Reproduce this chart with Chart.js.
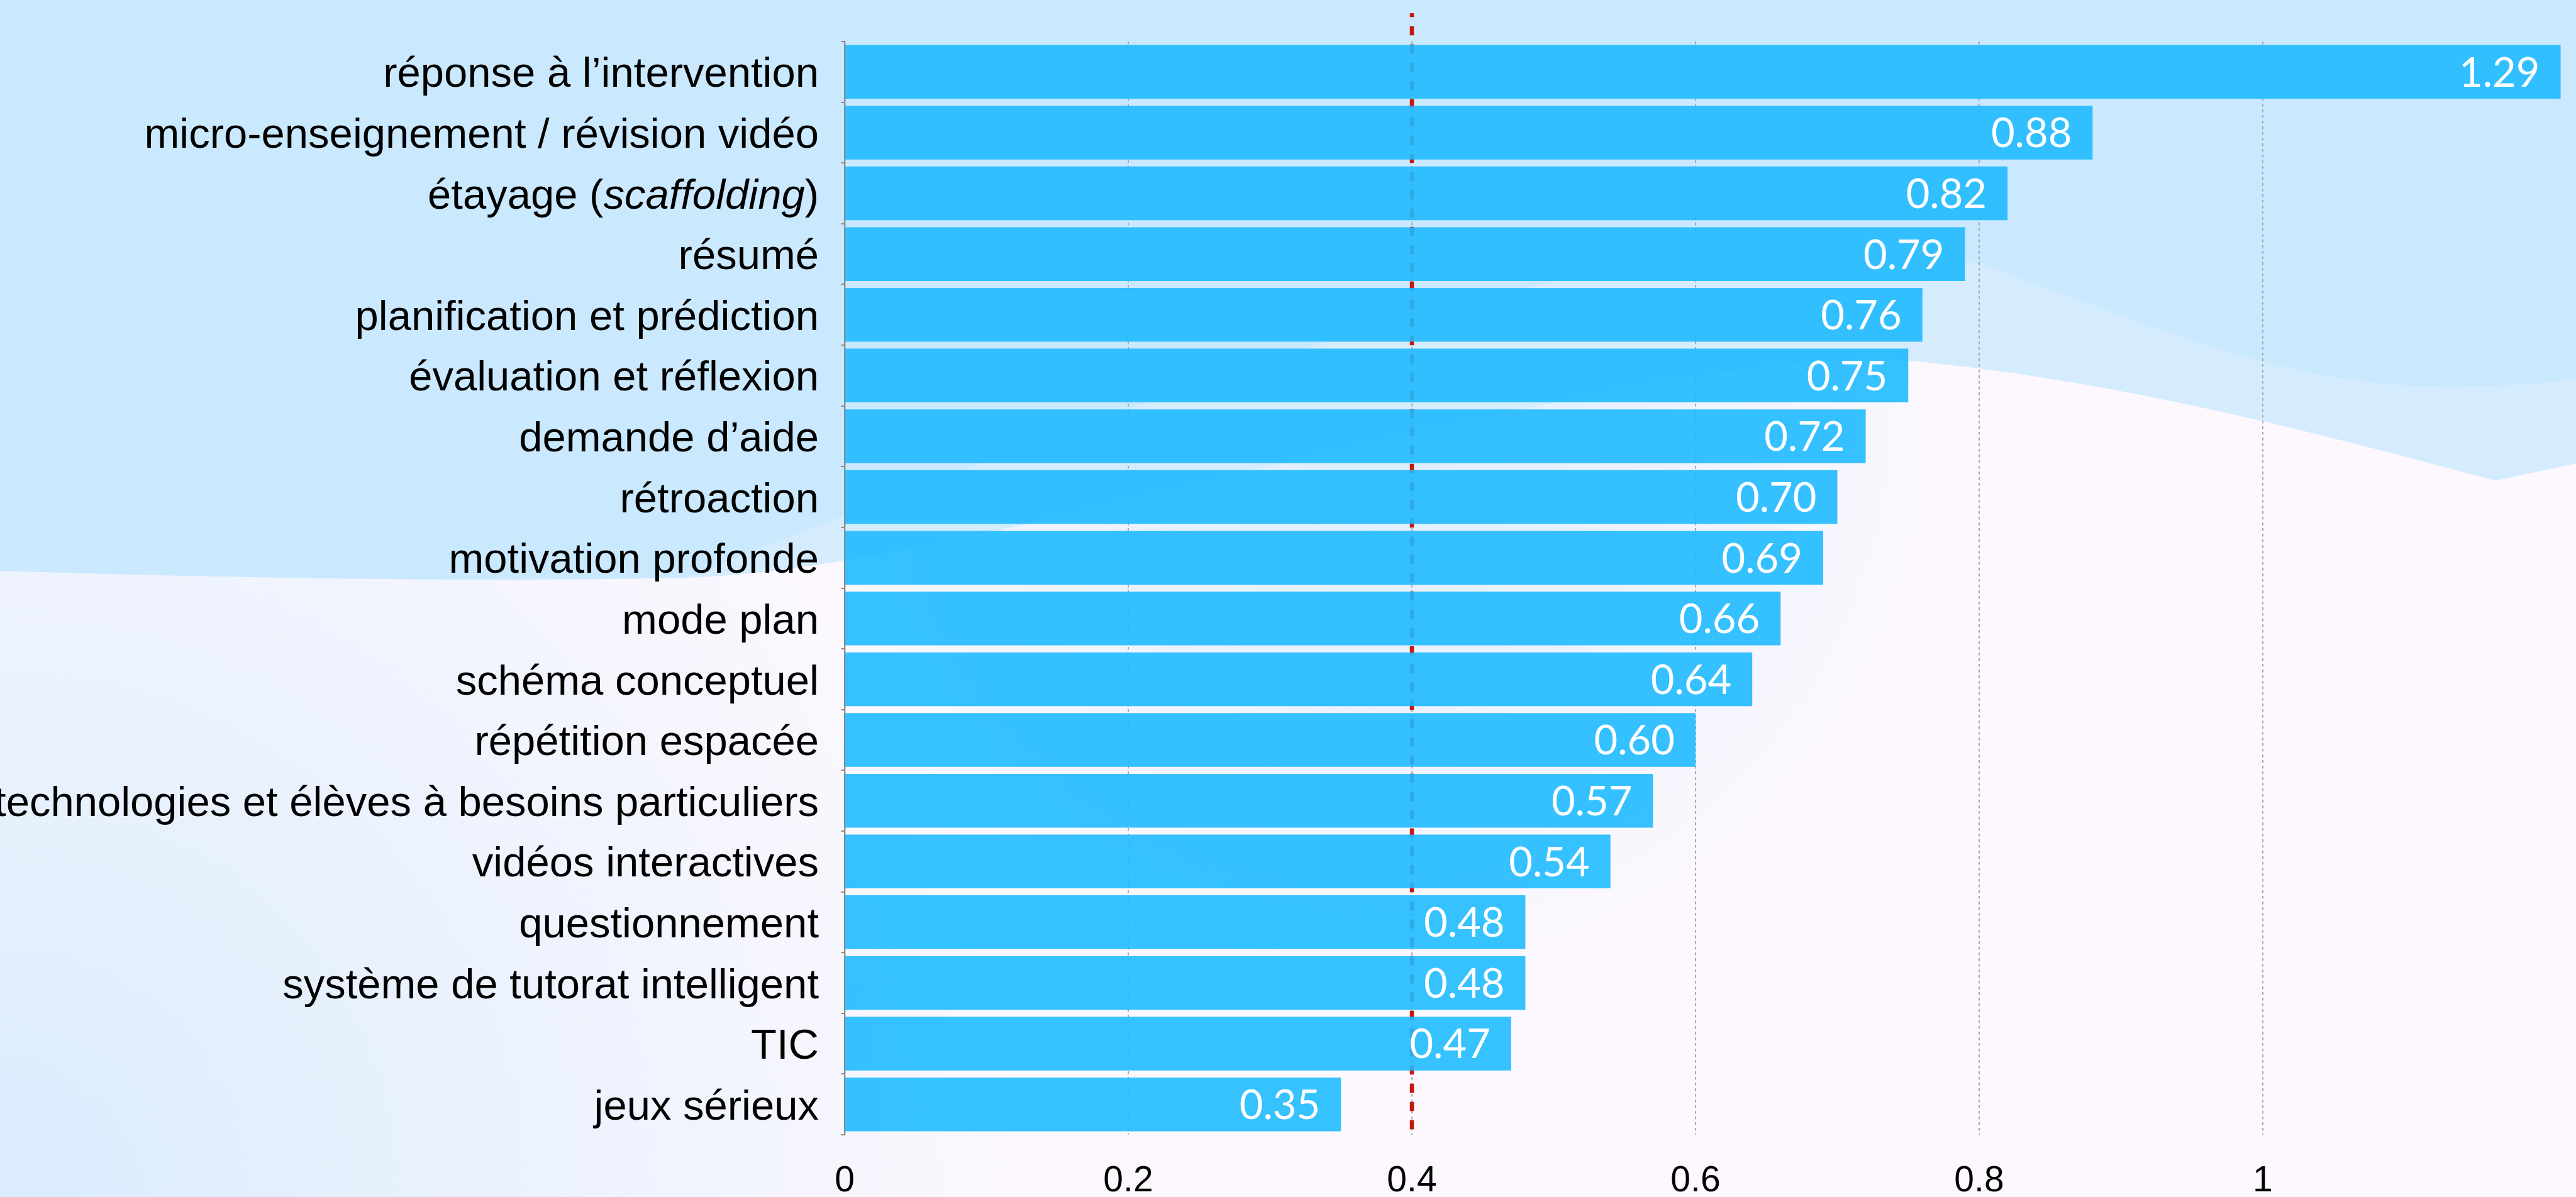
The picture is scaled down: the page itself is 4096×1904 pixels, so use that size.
<!DOCTYPE html>
<html>
<head>
<meta charset="utf-8">
<script src="https://cdn.jsdelivr.net/npm/chart.js@4.4.1/dist/chart.umd.min.js"></script>
<style>
  html, body { margin: 0; padding: 0; overflow: hidden; background: #fcf8fe; }
  canvas { display: block; }
</style>
</head>
<body>
<canvas id="effectChart" width="4096" height="1904"></canvas>
<script>
// DATA
const categories = [
  "réponse à l’intervention", "micro-enseignement / révision vidéo", "étayage (scaffolding)",
  "résumé", "planification et prédiction", "évaluation et réflexion", "demande d’aide",
  "rétroaction", "motivation profonde", "mode plan", "schéma conceptuel", "répétition espacée",
  "technologies et élèves à besoins particuliers", "vidéos interactives", "questionnement",
  "système de tutorat intelligent", "TIC", "jeux sérieux"
];
const effectSizes = [1.29, 0.88, 0.82, 0.79, 0.76, 0.75, 0.72, 0.70, 0.69, 0.66, 0.64, 0.60, 0.57, 0.54, 0.48, 0.48, 0.47, 0.35];
const xTicks = [0, 0.2, 0.4, 0.6, 0.8, 1];
const xMax = 1.21;
const hingePoint = 0.4;
const italicWords = ["scaffolding"];

// sizes (reference was 4511 wide, drawn at 0.908)
const S = 0.908;
const labelSize = 67;
const valueSize = 65;
const tickLen = 5.5;
const labelPad = 35.5;

// soft wave background, in reference coordinates
function drawWaves(ctx) {
  ctx.save();
  ctx.scale(S, S);
  ctx.fillStyle = "#fcf8fe";
  ctx.fillRect(0, 0, 4511, 2097);

  const glow = ctx.createRadialGradient(0, 2097, 0, 0, 2097, 1800);
  glow.addColorStop(0, "rgba(218, 236, 253, 1)");
  glow.addColorStop(1, "rgba(218, 236, 253, 0)");
  ctx.fillStyle = glow;
  ctx.fillRect(0, 0, 4511, 2097);

  const haze = ctx.createRadialGradient(2400, 720, 0, 2400, 720, 1000);
  haze.addColorStop(0, "rgba(214, 235, 254, 0.85)");
  haze.addColorStop(1, "rgba(214, 235, 254, 0)");
  ctx.fillStyle = haze;
  ctx.fillRect(0, 0, 4511, 2097);

  // lighter band
  ctx.fillStyle = "#d5ecfe";
  ctx.beginPath();
  ctx.moveTo(0, 0);
  ctx.lineTo(0, 1000);
  ctx.bezierCurveTo(400, 1012, 800, 1020, 1200, 1012);
  ctx.bezierCurveTo(1700, 1000, 2700, 640, 3300, 628);
  ctx.bezierCurveTo(3700, 660, 4100, 770, 4370, 842);
  ctx.lineTo(4511, 812);
  ctx.lineTo(4511, 0);
  ctx.closePath();
  ctx.fill();

  // main blue
  ctx.fillStyle = "#cae8fe";
  ctx.beginPath();
  ctx.moveTo(0, 0);
  ctx.lineTo(0, 1000);
  ctx.bezierCurveTo(400, 1012, 800, 1020, 1200, 1012);
  ctx.bezierCurveTo(2000, 700, 2900, 330, 3466, 463);
  ctx.bezierCurveTo(3750, 560, 3950, 660, 4227, 676);
  ctx.bezierCurveTo(4350, 680, 4450, 672, 4511, 664);
  ctx.lineTo(4511, 0);
  ctx.closePath();
  ctx.fill();
  ctx.restore();
}

const backgroundPlugin = {
  id: "waves",
  beforeDraw(chart) { drawWaves(chart.ctx); }
};

// red dashed line at the hinge point, under the bars
const hingePlugin = {
  id: "hinge",
  beforeDatasetsDraw(chart) {
    const ctx = chart.ctx;
    const x = chart.scales.x.getPixelForValue(hingePoint);
    ctx.save();
    ctx.strokeStyle = "#c41a0e";
    ctx.lineWidth = 6.5;
    ctx.setLineDash([14.5, 14.5]);
    ctx.lineDashOffset = 8.2;
    ctx.beginPath();
    ctx.moveTo(x, 21);
    ctx.lineTo(x, chart.chartArea.bottom);
    ctx.stroke();
    ctx.restore();
  }
};

// value labels inside the bar ends + category labels (one has an italic word)
const labelsPlugin = {
  id: "labels",
  afterDatasetsDraw(chart) {
    const ctx = chart.ctx;
    const meta = chart.getDatasetMeta(0);
    ctx.save();
    ctx.font = valueSize + "px Lato";
    ctx.fillStyle = "#ffffff";
    ctx.textAlign = "right";
    ctx.textBaseline = "alphabetic";
    meta.data.forEach((bar, i) => {
      const xEnd = Math.min(bar.x, chart.chartArea.right);
      ctx.fillText(effectSizes[i].toFixed(2), xEnd - 33, bar.y + valueSize * 0.36);
    });

    const yScale = chart.scales.y;
    const xRight = yScale.right - tickLen - labelPad;
    const regular = labelSize + 'px "Liberation Sans"';
    const italic = "italic " + labelSize + 'px "Liberation Sans"';
    const splitter = new RegExp("(" + italicWords.join("|") + ")");
    ctx.fillStyle = "#000000";
    ctx.textAlign = "left";
    categories.forEach((label, i) => {
      const y = yScale.getPixelForValue(i) + labelSize * 0.36;
      const parts = label.split(splitter).filter(p => p.length);
      const widths = parts.map(p => {
        ctx.font = italicWords.includes(p) ? italic : regular;
        return ctx.measureText(p).width;
      });
      let x = xRight - widths.reduce((a, b) => a + b, 0);
      parts.forEach((p, k) => {
        ctx.font = italicWords.includes(p) ? italic : regular;
        ctx.fillText(p, x, y);
        x += widths[k];
      });
    });
    ctx.restore();
  }
};

const ctx = document.getElementById("effectChart").getContext("2d");

new Chart(ctx, {
  type: "bar",
  data: {
    labels: categories,
    datasets: [{
      data: effectSizes,
      backgroundColor: "rgba(32, 186, 255, 0.9)",
      borderWidth: 0,
      categoryPercentage: 1,
      barPercentage: 0.885
    }]
  },
  options: {
    indexAxis: "y",
    responsive: false,
    devicePixelRatio: 1,
    animation: false,
    layout: { padding: { top: 66, right: 24.5, left: 0, bottom: 0 } },
    plugins: {
      legend: { display: false },
      tooltip: { enabled: false }
    },
    scales: {
      x: {
        min: 0,
        max: xMax,
        afterBuildTicks: axis => { axis.ticks = xTicks.map(v => ({ value: v })); },
        afterFit: axis => { axis.height = 99; },
        ticks: {
          callback: v => String(v),
          color: "#000000",
          font: { family: "Liberation Sans", size: 57 },
          padding: 40,
          maxRotation: 0,
          autoSkip: false
        },
        grid: { color: "#a9a9a9", lineWidth: 2, drawTicks: false },
        border: { display: false, dash: [4.5, 4.5] }
      },
      y: {
        afterFit: axis => { axis.width = 1343; },
        ticks: { display: false },
        grid: {
          drawOnChartArea: false,
          drawTicks: true,
          tickLength: tickLen,
          color: "#8a8a8a",
          lineWidth: 2
        },
        border: { display: true, color: "#8a8a8a", width: 2.3 }
      }
    }
  },
  plugins: [backgroundPlugin, hingePlugin, labelsPlugin]
});
</script>
</body>
</html>
